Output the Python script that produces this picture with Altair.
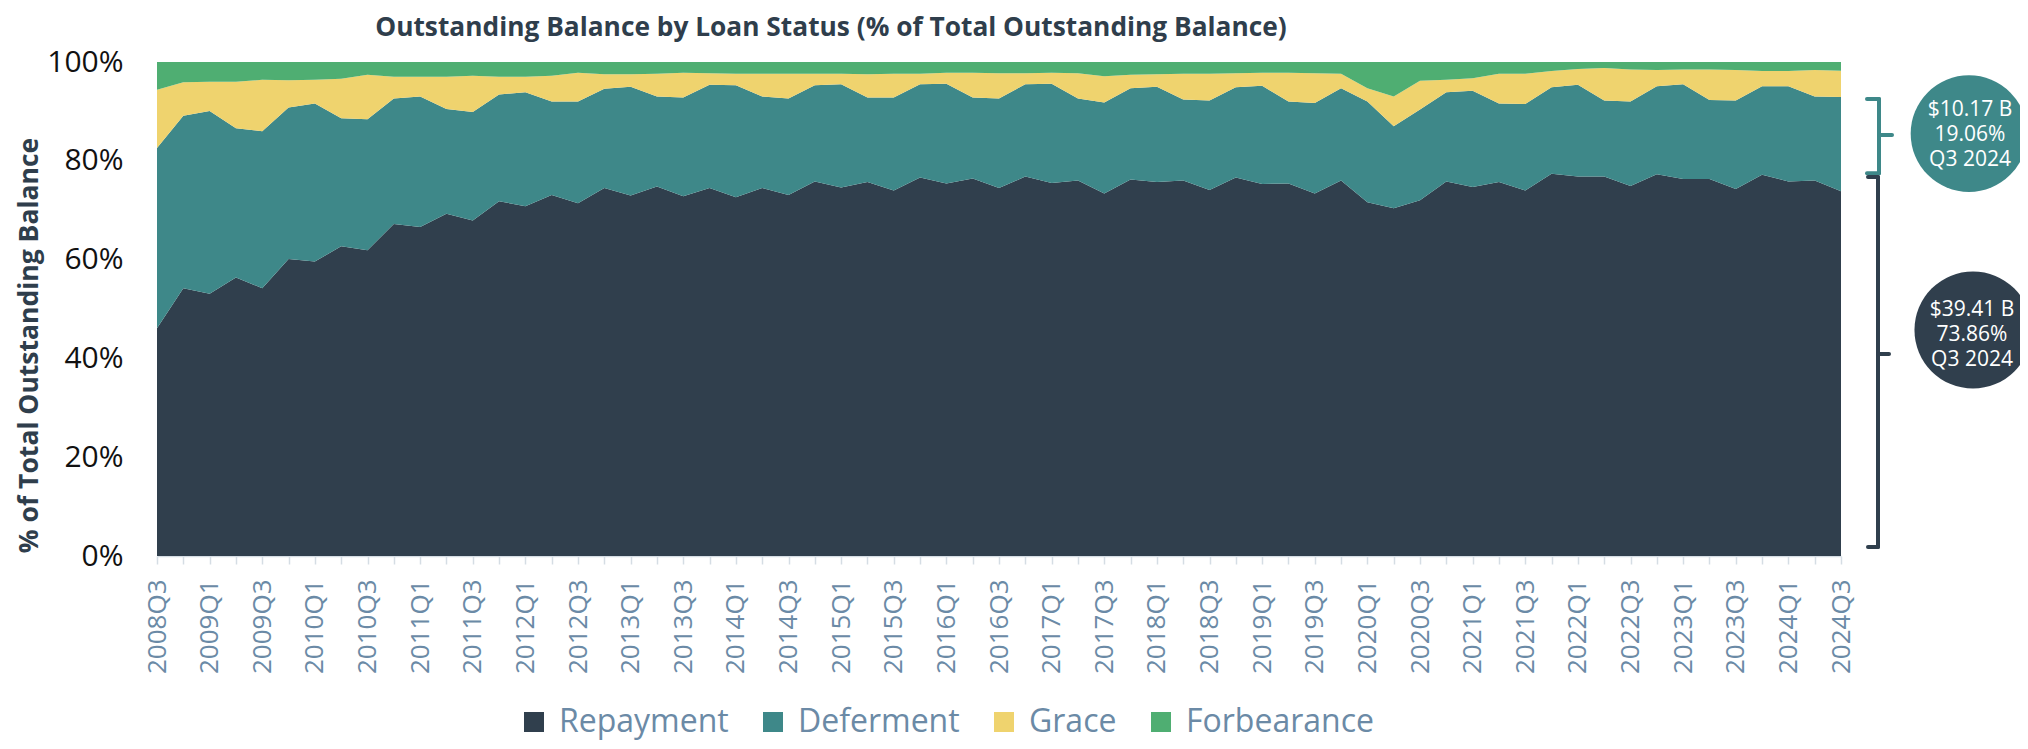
import altair as alt
import pandas as pd

# ---------------- data ----------------
quarters = [f"{y}Q{q}" for y in range(2008, 2025) for q in range(1, 5)][2:67]

statuses = ["Repayment", "Deferment", "Grace", "Forbearance"]
colors = ["#303f4d", "#3e8889", "#efd36e", "#4fae72"]

repayment = [46.1, 54.2, 53.1, 56.4, 54.2, 60.1, 59.6, 62.7, 61.9, 67.2,
             66.6, 69.3, 67.9, 71.8, 70.8, 73.1, 71.4, 74.5, 73.0, 74.8,
             72.8, 74.5, 72.6, 74.5, 73.1, 75.8, 74.6, 75.7, 74.0, 76.6,
             75.4, 76.4, 74.5, 76.8, 75.5, 76.0, 73.4, 76.2, 75.7, 76.0,
             74.1, 76.6, 75.3, 75.4, 73.4, 76.0, 71.6, 70.4, 72.0, 75.8,
             74.7, 75.7, 74.0, 77.4, 76.8, 76.8, 74.9, 77.3, 76.3, 76.3,
             74.3, 77.2, 75.8, 76.0, 73.86]
deferment = [36.5, 34.9, 37.0, 30.2, 31.8, 30.7, 32.0, 25.9, 26.5, 25.4,
             26.4, 21.2, 22.0, 21.6, 23.1, 18.9, 20.6, 20.1, 22.0, 18.2,
             20.0, 20.9, 22.7, 18.5, 19.5, 19.5, 20.9, 17.1, 18.8, 18.9,
             20.2, 16.4, 18.1, 18.7, 20.1, 16.6, 18.4, 18.5, 19.3, 16.4,
             18.1, 18.3, 19.9, 16.6, 18.3, 18.7, 20.4, 16.6, 18.4, 18.1,
             19.5, 15.9, 17.5, 17.5, 18.6, 15.4, 17.1, 17.8, 19.2, 16.0,
             17.9, 17.9, 19.3, 17.0, 19.06]
grace = [11.8, 6.8, 5.9, 9.4, 10.4, 5.5, 4.8, 8.0, 9.0, 4.4,
         4.0, 6.5, 7.3, 3.6, 3.1, 5.2, 5.8, 2.9, 2.5, 4.6,
         5.0, 2.3, 2.3, 4.6, 5.0, 2.3, 2.1, 4.7, 4.8, 2.1,
         2.2, 5.0, 5.1, 2.2, 2.2, 5.1, 5.3, 2.7, 2.5, 5.2,
         5.4, 2.8, 2.6, 5.8, 6.0, 2.9, 2.7, 6.0, 5.8, 2.5,
         2.5, 6.0, 6.1, 3.3, 3.2, 6.6, 6.5, 3.3, 3.0, 6.2,
         6.2, 3.1, 3.1, 5.4, 5.3]
forbearance = [5.6, 4.1, 4.0, 4.0, 3.6, 3.7, 3.6, 3.4, 2.6, 3.0,
               3.0, 3.0, 2.8, 3.0, 3.0, 2.8, 2.2, 2.5, 2.5, 2.4,
               2.2, 2.3, 2.4, 2.4, 2.4, 2.4, 2.4, 2.5, 2.4, 2.4,
               2.2, 2.2, 2.3, 2.3, 2.2, 2.3, 2.9, 2.6, 2.5, 2.4,
               2.4, 2.3, 2.2, 2.2, 2.3, 2.4, 5.3, 7.0, 3.8, 3.6,
               3.3, 2.4, 2.4, 1.8, 1.4, 1.2, 1.5, 1.6, 1.5, 1.5,
               1.6, 1.8, 1.8, 1.6, 1.78]

# latest-quarter callouts
deferment_balance_b = 10.17
repayment_balance_b = 39.41
latest_label = "Q3 2024"

TITLE = "Outstanding Balance by Loan Status (% of Total Outstanding Balance)"
Y_TITLE = "% of Total Outstanding Balance"

# ---------------- build table ----------------
rows = []
for s_i, (name, vals) in enumerate(zip(statuses, [repayment, deferment, grace, forbearance])):
    for q, v in zip(quarters, vals):
        rows.append({"quarter": q, "status": name, "pct": v, "ord": s_i})
df = pd.DataFrame(rows)

W, H = 1684, 494
DARK = "#303f4d"
TEAL = "#3e8889"
LABEL = "#6b8aa6"
FONT = "Open Sans"

area = alt.Chart(df).mark_area(opacity=1).encode(
    x=alt.X("quarter:N", sort=quarters,
            scale=alt.Scale(type="point", padding=0),
            axis=alt.Axis(title=None, labelAngle=270, labelFontSize=26, labelColor=LABEL,
                          labelFont=FONT, labelPadding=15, tickSize=8, tickColor="#d5dde4",
                          tickWidth=1.5, domainColor="#d5dde4", domainWidth=1.5,
                          labelOverlap=False,
                          labelExpr="(slice(datum.label,-1)=='1' || slice(datum.label,-1)=='3') ? datum.label : ''")),
    y=alt.Y("pct:Q", stack="zero",
            scale=alt.Scale(domain=[0, 100], nice=False),
            axis=alt.Axis(title=Y_TITLE, values=[0, 20, 40, 60, 80, 100],
                          labelExpr="datum.value + '%'", labelFontSize=30, labelColor="#111111",
                          labelFont=FONT, labelPadding=34, ticks=False, tickSize=0, domain=False,
                          grid=False, titleFontSize=26.5, titleFontWeight="bold", titleColor="#2f3e4c",
                          titleFont=FONT, titleAngle=270, titleX=-128, titleY=283,
                          titleAlign="center", titleBaseline="middle")),
    color=alt.Color("status:N", scale=alt.Scale(domain=statuses, range=colors),
                    legend=alt.Legend(title=None, orient="none", legendX=361, legendY=644,
                                      direction="horizontal", symbolType="square",
                                      symbolSize=400, symbolStrokeWidth=0, symbolOpacity=1,
                                      labelFontSize=32, labelColor=LABEL, labelFont=FONT,
                                      labelLimit=500, labelOffset=9, columnPadding=28)),
    order=alt.Order("ord:Q", sort="ascending"),
)

# title
title = alt.Chart(pd.DataFrame({"t": [TITLE]})).mark_text(
    font=FONT, fontSize=26.3, fontWeight="bold", color="#2f3e4c",
    align="center", baseline="alphabetic"
).encode(text="t:N", x=alt.value(674), y=alt.value(-26))

# brackets (anchored on the value axis)
teal_lo, teal_mid, teal_hi = 77.5, 85.2, 92.5
dark_lo, dark_mid, dark_hi = 1.8, 40.9, 76.7


def bracket(lo, mid, hi, xv, xend, xnub, color):
    vert = alt.Chart(pd.DataFrame({"pct": [lo], "pct2": [hi]})).mark_rule(
        color=color, strokeWidth=4, strokeCap="round").encode(
        x=alt.value(xv), y="pct:Q", y2="pct2:Q")
    ends = alt.Chart(pd.DataFrame({"pct": [lo, hi]})).mark_rule(
        color=color, strokeWidth=4, strokeCap="round").encode(
        x=alt.value(xend), x2=alt.value(xv), y="pct:Q")
    nub = alt.Chart(pd.DataFrame({"pct": [mid]})).mark_rule(
        color=color, strokeWidth=4, strokeCap="round").encode(
        x=alt.value(xv), x2=alt.value(xnub), y="pct:Q")
    return vert + ends + nub


teal_br = bracket(teal_lo, teal_mid, teal_hi, 1722, 1710, 1735, TEAL)
dark_br = bracket(dark_lo, dark_mid, dark_hi, 1721, 1711, 1732, DARK)

# circles with callout text (text y = first line)
callouts = pd.DataFrame({
    "pct": [85.5, 45.75],
    "tpct": [90.3, 49.8],
    "status": ["Deferment", "Repayment"],
    "label": [
        f"${deferment_balance_b:.2f} B\n{deferment[-1]:.2f}%\n{latest_label}",
        f"${repayment_balance_b:.2f} B\n{repayment[-1]:.2f}%\n{latest_label}",
    ],
})

circle_teal = alt.Chart(callouts.iloc[[0]]).mark_circle(size=13600, opacity=1, color=TEAL).encode(
    x=alt.value(1812), y="pct:Q")
circle_dark = alt.Chart(callouts.iloc[[1]]).mark_circle(size=13700, opacity=1, color=DARK).encode(
    x=alt.value(1816), y="pct:Q")
text_teal = alt.Chart(callouts.iloc[[0]]).mark_text(
    font=FONT, fontSize=21, color="white", lineBreak="\n", lineHeight=25,
    align="center", baseline="middle").encode(x=alt.value(1813), y="tpct:Q", text="label:N")
text_dark = alt.Chart(callouts.iloc[[1]]).mark_text(
    font=FONT, fontSize=21, color="white", lineBreak="\n", lineHeight=25,
    align="center", baseline="middle").encode(x=alt.value(1815), y="tpct:Q", text="label:N")

chart = alt.layer(
    area, title, teal_br, dark_br, circle_teal, circle_dark, text_teal, text_dark
).properties(
    width=W, height=H,
    autosize=alt.AutoSizeParams(type="none"),
    padding={"left": 149, "top": 54, "right": 179, "bottom": 185},
).configure(font=FONT).configure_view(strokeWidth=0)

chart.save("out.html", embed_options={"renderer": "svg", "actions": False})
